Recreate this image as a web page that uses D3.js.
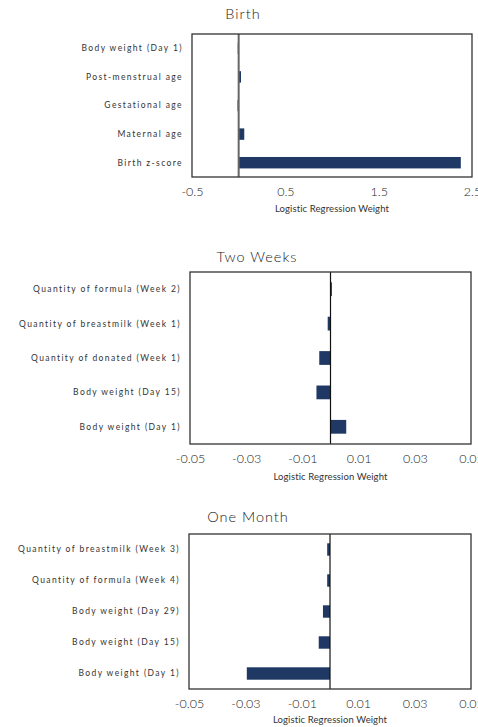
<!DOCTYPE html>
<html>
<head>
<meta charset="utf-8">
<script src="https://cdn.jsdelivr.net/npm/d3@7"></script>
<style>
  body { margin: 0; background: #fff; }
  svg { display: block; font-family: Lato, "Noto Sans", sans-serif; }
</style>
</head>
<body>
<svg id="chart" width="478" height="727"></svg>
<script>
// data
var birthLabels = ["Body weight (Day 1)", "Post-menstrual age", "Gestational age", "Maternal age", "Birth z-score"];
var birthValues = [-0.01, 0.025, -0.012, 0.06, 2.38];
var birthTicks = [-0.5, 0.5, 1.5, 2.5];

var twoWeekLabels = ["Quantity of formula (Week 2)", "Quantity of breastmilk (Week 1)", "Quantity of donated (Week 1)", "Body weight (Day 15)", "Body weight (Day 1)"];
var twoWeekValues = [0.0005, -0.001, -0.004, -0.005, 0.0056];

var oneMonthLabels = ["Quantity of breastmilk (Week 3)", "Quantity of formula (Week 4)", "Body weight (Day 29)", "Body weight (Day 15)", "Body weight (Day 1)"];
var oneMonthValues = [-0.001, -0.001, -0.0025, -0.004, -0.0295];

var smallTicks = [-0.05, -0.03, -0.01, 0.01, 0.03, 0.05];

var barColor = "#203864";
var textColor = "#1a1a1a";
var svg = d3.select("#chart");

/* one panel = title, box, bars, zero line, axis */
function drawPanel(p) {
    var x = d3.scaleLinear()
        .domain(p.domain)
        .range([p.left, p.right]);

    var y = d3.scaleBand()
        .domain(p.labels)
        .range([p.top, p.bottom])
        .paddingInner(0.6)
        .paddingOuter(0.3);

    var data = p.labels.map((l, i) => ({label: l, value: p.values[i]}));
    var g = svg.append("g");

    g.append("text")
        .attr("x", p.titleX)
        .attr("y", p.titleY)
        .attr("text-anchor", "middle")
        .attr("font-size", 14.5)
        .attr("font-weight", 300)
        .attr("letter-spacing", 1)
        .attr("fill", textColor)
        .text(p.title);

    g.selectAll("rect.bar")
        .data(data)
        .join("rect")
        .attr("class", "bar")
        .attr("x", d => x(Math.min(0, d.value)))
        .attr("y", d => y(d.label))
        .attr("width", d => Math.abs(x(d.value) - x(0)))
        .attr("height", y.bandwidth())
        .attr("fill", barColor);

    // zero line
    g.append("line")
        .attr("x1", x(0)).attr("x2", x(0))
        .attr("y1", p.top).attr("y2", p.bottom)
        .attr("stroke", p.zeroColor)
        .attr("stroke-width", p.zeroWidth);

    g.append("rect")
        .attr("x", p.left)
        .attr("y", p.top)
        .attr("width", p.right - p.left)
        .attr("height", p.bottom - p.top)
        .attr("fill", "none")
        .attr("stroke", "#333")
        .attr("stroke-width", 1.3);

    g.selectAll("text.cat")
        .data(data)
        .join("text")
        .attr("class", "cat")
        .attr("x", p.left - 9)
        .attr("y", d => y(d.label) + y.bandwidth() / 2)
        .attr("dy", "0.35em")
        .attr("text-anchor", "end")
        .attr("font-size", 8.5)
        .attr("letter-spacing", 1.4)
        .attr("fill", "#333")
        .text(d => d.label);

    var axis = g.append("g")
        .attr("transform", "translate(0," + p.bottom + ")")
        .call(d3.axisBottom(x).tickValues(p.ticks).tickSize(0).tickPadding(10)
            .tickFormat(d => d.toString()));
    axis.select(".domain").remove();
    axis.selectAll("text")
        .attr("font-family", "Lato, 'Noto Sans', sans-serif")
        .attr("font-weight", 300)
        .attr("font-size", 12.5)
        .attr("fill", textColor);

    g.append("text")
        .attr("x", (p.left + p.right) / 2)
        .attr("y", p.bottom + p.axisLabelGap)
        .attr("text-anchor", "middle")
        .attr("font-size", 9.5)
        .attr("letter-spacing", 0.1)
        .attr("fill", "#333")
        .text("Logistic Regression Weight");
}

drawPanel({
    title: "Birth", titleX: 243, titleY: 19,
    labels: birthLabels, values: birthValues, ticks: birthTicks,
    domain: [-0.5, 2.5],
    left: 192, right: 472, top: 34, bottom: 177,
    zeroColor: "#666", zeroWidth: 2, axisLabelGap: 35
});

drawPanel({
    title: "Two Weeks", titleX: 257, titleY: 262,
    labels: twoWeekLabels, values: twoWeekValues, ticks: smallTicks,
    domain: [-0.05, 0.05],
    left: 190, right: 471, top: 272, bottom: 444,
    zeroColor: "#111", zeroWidth: 1.2, axisLabelGap: 36
});

drawPanel({
    title: "One Month", titleX: 248, titleY: 522,
    labels: oneMonthLabels, values: oneMonthValues, ticks: smallTicks,
    domain: [-0.05, 0.05],
    left: 189, right: 471, top: 534, bottom: 689,
    zeroColor: "#111", zeroWidth: 1.2, axisLabelGap: 34
});
</script>
</body>
</html>
